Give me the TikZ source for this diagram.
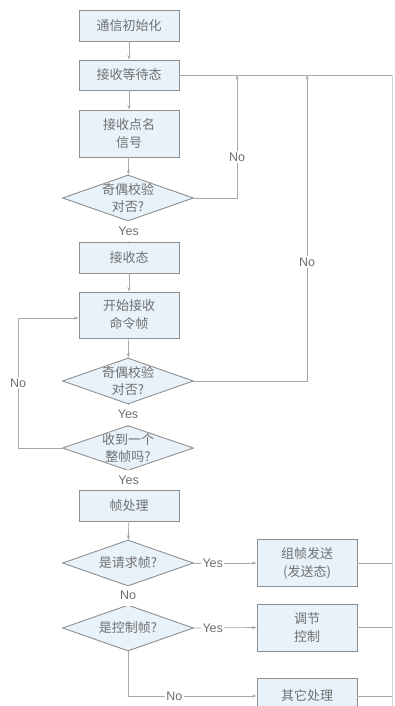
\documentclass[tikz,border=0pt]{standalone}
\usepackage{fontspec}
\setmainfont{Noto Sans CJK SC}
\newfontfamily\latinf{Liberation Sans}
\usetikzlibrary{shapes.geometric,arrows.meta}
\definecolor{boxfill}{HTML}{E8F2FA}
\definecolor{boxline}{HTML}{8E8E8E}
\definecolor{txt}{HTML}{707070}
\definecolor{conn}{HTML}{A8A8A8}
\definecolor{faint}{HTML}{D4D4D4}
\tikzset{
  box/.style={draw=boxline, fill=boxfill, line width=0.9pt, minimum width=100pt, inner sep=0pt, align=center, text=txt, font=\fontsize{13}{18}\selectfont},
  dia/.style={diamond, draw=boxline, fill=boxfill, line width=0.9pt, minimum width=131pt, minimum height=46pt, inner sep=0pt},
  dtext/.style={align=center, text=txt, font=\fontsize{13}{17}\selectfont},
  lab/.style={fill=white, text=txt, font=\latinf\fontsize{12.5}{14}\selectfont, inner sep=1.5pt},
  ylab/.style={fill=white, text=txt, font=\latinf\fontsize{12.5}{14}\selectfont, inner sep=0pt, minimum height=20pt, minimum width=30pt},
  conline/.style={draw=conn, line width=0.7pt},
  arr/.style={conline, -{Stealth[length=4.5pt,width=3.2pt]}},
}
\begin{document}
\begin{tikzpicture}[x=1pt,y=-1pt]
\useasboundingbox (0,0) rectangle (394,706);
\clip (0,0) rectangle (394,706);
% left column
\node[box, minimum height=31pt] (n1) at (129,25.5) {通信初始化};
\node[box, minimum height=30pt] (n2) at (129,75) {接收等待态};
\node[box, minimum height=47pt] (n3) at (129,133.5) {接收点名\\信号};
\node[dia] (d1) at (128,198) {};
\node[dtext] at (d1.center) {奇偶校验\\对否?};
\node[box, minimum height=31pt] (n4) at (129,257.5) {接收态};
\node[box, minimum height=46pt] (n5) at (129,315) {开始接收\\命令帧};
\node[dia] (d2) at (128,381) {};
\node[dtext] at (d2.center) {奇偶校验\\对否?};
\node[dia, minimum height=45pt] (d3) at (128,448) {};
\node[dtext] at (d3.center) {收到一个\\整帧吗?};
\node[box, minimum height=31pt] (n6) at (129,505.5) {帧处理};
\node[dia] (d4) at (128,563) {};
\node[dtext] at (d4.center) {是请求帧?};
\node[dia] (d5) at (128,628) {};
\node[dtext] at (d5.center) {是控制帧?};
% right column
\node[box, minimum height=47pt] (n7) at (307,563) {组帧发送\\(发送态)};
\node[box, minimum height=47pt] (n8) at (307,627.5) {调节\\控制};
\node[box, minimum height=36pt] (n9) at (307,696) {其它处理};
\coordinate (rt) at (392,75);
\coordinate (rb) at (392,706);
\coordinate (c1) at (237,75);
\coordinate (c2) at (307,75);
% vertical flow
\draw[arr] (n1) -- (n2);
\draw[arr] (n2) -- (n3);
\draw[arr] (n3) -- (d1);
\draw[conline] (d1) -- node[ylab]{Yes} (n4);
\draw[arr] (n4) -- (n5);
\draw[arr] (n5) -- (d2);
\draw[conline] (d2) -- node[ylab]{Yes} (d3);
\draw[conline] (d3) -- node[ylab]{Yes} (n6);
\draw[arr] (n6) -- (d4);
\draw[conline] (d4) -- node[ylab]{No} (d5);
% loops back
\draw[arr] (d1.east) -| node[lab, pos=0.667]{No} (c1);
\draw[arr] (d2.east) -| node[lab, pos=0.694]{No} (c2);
\draw[arr] (d3.west) -- (18,448) -- node[lab, pos=0.5]{No} (18,318) -- (n5.west |- 0,318);
% right bus
\draw[conline] (n2.east) -- (rt);
\draw[draw=faint, line width=0.7pt] (rt) -- (rb);
\draw[conline] (n7.east) -- (n7.east -| rt);
\draw[conline] (n8.east) -- (n8.east -| rt);
\draw[conline] (n9.east) -- (n9.east -| rt);
% yes branches
\draw[arr] (d4.east) -- node[lab, pos=0.3]{Yes} (n7.west);
\draw[arr] (d5.east) -- node[lab, pos=0.3]{Yes} (n8.west);
\draw[arr] (d5.south) |- node[lab, pos=0.68]{No} (n9.west);
\end{tikzpicture}
\end{document}
